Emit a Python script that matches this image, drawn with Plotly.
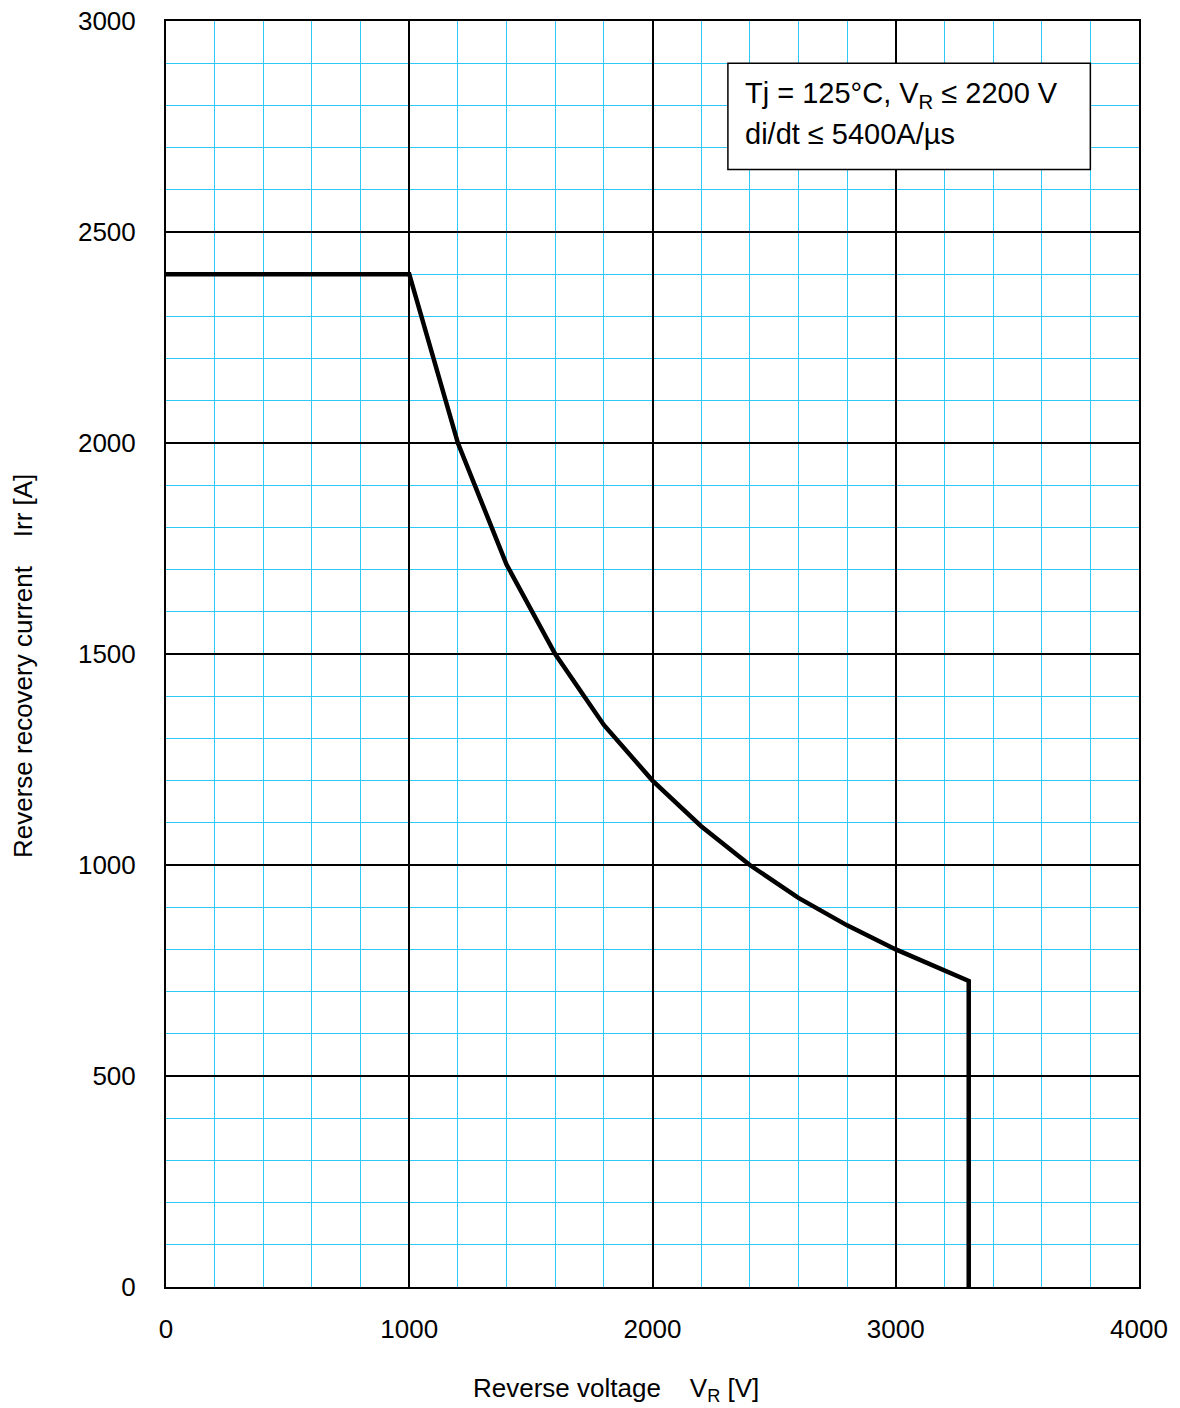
import plotly.graph_objects as go

voltage = [0, 1000, 1200, 1400, 1600, 1800, 2000, 2200, 2400, 2600, 2800, 3000, 3300, 3300]
current = [2400, 2400, 2000, 1712, 1500, 1332, 1200, 1092, 1000, 922, 857, 800, 725, 0]

x_ticks = [0, 1000, 2000, 3000, 4000]
y_ticks = [0, 500, 1000, 1500, 2000, 2500, 3000]

FONT = "Liberation Sans, Arial, sans-serif"

fig = go.Figure()
fig.add_trace(go.Scatter(x=voltage, y=current, mode="lines",
                         line=dict(color="black", width=4.5), hoverinfo="skip",
                         showlegend=False))

axis_common = dict(
    showline=True, linecolor="black", linewidth=2, mirror=True,
    showgrid=True, gridcolor="black", gridwidth=2,
    zeroline=False, ticks="", tickfont=dict(family=FONT, size=26, color="black"),
    ticklabeloverflow="allow", automargin=False,
)
fig.update_xaxes(range=[0, 4000], tickvals=x_ticks, ticklabelstandoff=18,
                 minor=dict(dtick=200, showgrid=True, gridcolor="#30c8f8", gridwidth=1, tick0=0),
                 **axis_common)
fig.update_yaxes(range=[0, 3000], tickvals=y_ticks, ticklabelstandoff=23,
                 minor=dict(dtick=100, showgrid=True, gridcolor="#30c8f8", gridwidth=1, tick0=0),
                 **axis_common)

fig.add_shape(type="rect", x0=2310, x1=3800, y0=2648, y1=2900, xref="x", yref="y",
              line=dict(color="black", width=1.5), fillcolor="white", layer="above")
fig.add_annotation(x=2370, y=2825, xref="x", yref="y", xanchor="left", yanchor="middle",
                   text="Tj = 125°C, V<sub>R</sub> ≤ 2200 V", showarrow=False,
                   font=dict(family=FONT, size=29, color="black"))
fig.add_annotation(x=2370, y=2733, xref="x", yref="y", xanchor="left", yanchor="middle",
                   text="di/dt ≤ 5400A/µs", showarrow=False,
                   font=dict(family=FONT, size=29, color="black"))

fig.add_annotation(x=0.462, y=-0.081, xref="paper", yref="paper", xanchor="center", yanchor="middle",
                   text="Reverse voltage    V<sub>R</sub> [V]", showarrow=False,
                   font=dict(family=FONT, size=26, color="black"))
fig.add_annotation(x=-0.147, y=0.4905, xref="paper", yref="paper", xanchor="center", yanchor="middle",
                   text="Reverse recovery current    Irr [A]", showarrow=False, textangle=-90,
                   font=dict(family=FONT, size=26, color="black"))

fig.update_layout(width=1180, height=1408, margin=dict(l=158, r=49, t=13, b=129),
                  plot_bgcolor="white", paper_bgcolor="white", showlegend=False)

fig.write_html("out.html")
